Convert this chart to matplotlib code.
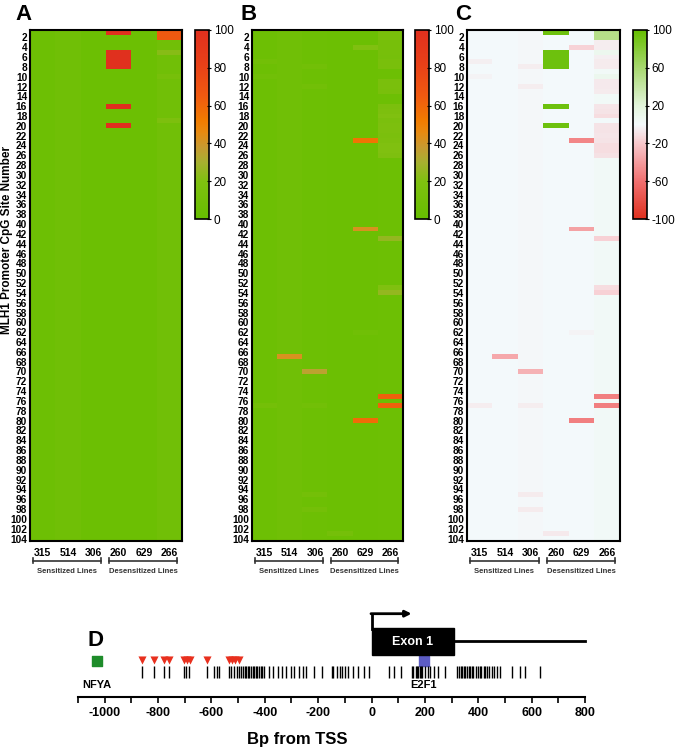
import matplotlib
matplotlib.use("Agg")
import matplotlib.pyplot as plt
import numpy as np
from matplotlib.colors import LinearSegmentedColormap
from matplotlib.patches import Rectangle

plt.rcParams['font.family'] = ['Liberation Sans', 'DejaVu Sans']
plt.rcParams['axes.unicode_minus'] = False

# ---- data -------------------------------------------------------------
n_sites = 104
cell_lines = ['315', '514', '306', '260', '629', '266']

# background methylation level per cell line (%)
base_a = [6, 8, 5, 5, 5, 9]
base_b = [6, 8, 6, 5, 5, 6]

# (site, line index, % methylation) for the cells that stand out
high_a = [(1, 3, 100), (5, 3, 100), (6, 3, 100), (7, 3, 100), (8, 3, 100),
          (16, 3, 100), (20, 3, 100),
          (1, 5, 65), (2, 5, 65), (5, 5, 22), (10, 5, 14), (19, 5, 18)]
high_b = [(7, 0, 10), (10, 0, 9), (77, 0, 11),
          (67, 1, 42),
          (8, 2, 10), (12, 2, 10), (70, 2, 35), (77, 2, 10), (95, 2, 11), (98, 2, 11),
          (103, 3, 12),
          (4, 4, 20), (23, 4, 55), (41, 4, 42), (62, 4, 8), (80, 4, 58),
          (1, 5, 15), (2, 5, 15), (3, 5, 14), (4, 5, 14), (5, 5, 14), (6, 5, 13),
          (7, 5, 15), (8, 5, 15), (11, 5, 16), (12, 5, 16), (13, 5, 15),
          (16, 5, 17), (17, 5, 18), (18, 5, 20), (19, 5, 17), (20, 5, 18),
          (21, 5, 18), (22, 5, 17), (23, 5, 18), (24, 5, 20), (25, 5, 20),
          (26, 5, 19), (43, 5, 25), (53, 5, 20), (54, 5, 25), (75, 5, 62),
          (77, 5, 62)]

# panel D: CpG positions relative to TSS (bp)
cpg_pos = [-862, -815, -778, -759, -704, -694, -684, -615, -590, -580, -570,
           -535, -525, -515, -505, -495, -488, -482, -476, -470, -464, -458,
           -452, -446, -440, -434, -428, -422, -416, -410, -404, -385, -370,
           -350, -335, -320, -300, -290, -270, -255, -245, -215, -185, -150,
           -145, -130, -120, -110, -100, -90, -70, -50, -30, -10, 65, 85, 110,
           150, 155, 165, 170, 175, 180, 185, 190, 200, 210, 220, 235, 250, 275,
           320, 328, 334, 340, 346, 352, 358, 364, 370, 376, 382, 390, 398, 405,
           412, 420, 425, 432, 440, 450, 460, 470, 480, 525, 555, 575, 630]
red_sites = [-862, -815, -778, -759, -704, -692, -680, -615, -535, -522, -510, -498]
nfya_pos = -1030
e2f1_pos = 195
exon_start, exon_end, gene_end = 0, 310, 800

# ---- build matrices ----------------------------------------------------
meth_a = np.tile(np.array(base_a, dtype=float), (n_sites, 1))
meth_b = np.tile(np.array(base_b, dtype=float), (n_sites, 1))
for site, col, val in high_a:
    meth_a[site - 1, col] = val
for site, col, val in high_b:
    meth_b[site - 1, col] = val
diff = meth_a - meth_b

cmap_meth = LinearSegmentedColormap.from_list('meth', [
    (0.0, '#66bf00'), (0.2, '#80c010'), (0.3, '#a8b030'), (0.38, '#c89a30'),
    (0.46, '#e88a10'), (0.52, '#f07c00'), (0.65, '#f05a10'), (0.82, '#e84018'),
    (1.0, '#e0301e')])
cmap_diff = LinearSegmentedColormap.from_list('diff', [
    (0.0, '#e0301e'), (0.2, '#f07070'), (0.4, '#f8c8cc'), (0.5, '#f4fafc'),
    (0.6, '#e2f4da'), (0.8, '#a8d870'), (1.0, '#66bf00')])

fig = plt.figure(figsize=(6.77, 7.5), dpi=100)
W, H = 677.0, 750.0


def fax(x0, y0, x1, y1):
    return fig.add_axes([x0 / W, 1 - y1 / H, (x1 - x0) / W, (y1 - y0) / H])


def heat(ax, data, cmap, vmin, vmax):
    im = ax.imshow(data, aspect='auto', cmap=cmap, vmin=vmin, vmax=vmax,
                   interpolation='nearest')
    rows = np.arange(2, n_sites + 1, 2)
    ax.set_yticks(rows - 1)
    ax.set_yticklabels([str(r) for r in rows], fontsize=7.3, fontweight='bold')
    ax.set_xticks(np.arange(len(cell_lines)))
    ax.set_xticklabels(cell_lines, fontsize=7.5, fontweight='bold')
    ax.tick_params(length=0, pad=2)
    ax.tick_params(axis='x', pad=5)
    for s in ax.spines.values():
        s.set_linewidth(1.5)
    # group brackets
    for x0, x1, lab in [(0.02, 0.47, 'Sensitized Lines'), (0.52, 0.97, 'Desensitized Lines')]:
        ax.plot([x0, x1], [-0.039, -0.039], color='#333333', lw=1.2,
                transform=ax.transAxes, clip_on=False)
        for xe in (x0, x1):
            ax.plot([xe, xe], [-0.034, -0.044], color='#333333', lw=1.2,
                    transform=ax.transAxes, clip_on=False)
        ax.text((x0 + x1) / 2, -0.052, lab, transform=ax.transAxes, ha='center',
                va='top', fontsize=5.5, fontweight='bold', color='#333333')
    return im


def cbar(im, cax, ticks):
    cb = fig.colorbar(im, cax=cax, ticks=ticks)
    cb.outline.set_linewidth(1.2)
    cb.ax.set_yticklabels([str(t) for t in ticks])
    cax.tick_params(labelsize=8.5, length=3, width=0.8, direction='inout', pad=2)
    return cb


ax_a = fax(30, 30, 182, 541)
im_a = heat(ax_a, meth_a, cmap_meth, 0, 100)
cbar(im_a, fax(195, 30, 209, 219), [0, 20, 40, 60, 80, 100])

ax_b = fax(252, 30, 403, 541)
im_b = heat(ax_b, meth_b, cmap_meth, 0, 100)
cbar(im_b, fax(415, 30, 429, 219), [0, 20, 40, 60, 80, 100])

ax_c = fax(467, 30, 620, 541)
im_c = heat(ax_c, diff, cmap_diff, -100, 100)
cbar(im_c, fax(633, 30, 647, 219), [-100, -60, -20, 20, 60, 100])

fig.text(7 / W, 1 - 240 / H, 'MLH1 Promoter CpG Site Number', rotation=90,
         ha='center', va='center', fontsize=8.5, fontweight='bold')
for lab, x in [('A', 15), ('B', 240), ('C', 455)]:
    fig.text(x / W, 1 - 15 / H, lab, ha='left', va='center', fontsize=16,
             fontweight='bold')

# ---- panel D -----------------------------------------------------------
ax_d = fax(78, 612, 585, 697)
ax_d.set_xlim(-1100, 800)
ax_d.set_ylim(0, 1)
for s in ['left', 'right', 'top']:
    ax_d.spines[s].set_visible(False)
ax_d.spines['bottom'].set_linewidth(1.5)
ax_d.set_yticks([])
ax_d.set_xticks(np.arange(-1000, 801, 200))
ax_d.set_xticks(np.arange(-1100, 801, 100), minor=True)
ax_d.tick_params(axis='x', which='both', length=4, width=1.2, labelsize=9, pad=3)
for t in ax_d.get_xticklabels():
    t.set_fontweight('bold')
ax_d.text(-280, -0.5, 'Bp from TSS', ha='center', va='center', fontsize=12,
          fontweight='bold')

ax_d.vlines(cpg_pos, 0.22, 0.37, color='black', lw=1.0)
ax_d.scatter(red_sites, [0.43] * len(red_sites), marker='v', s=34, color='#e8301e',
             zorder=3, linewidths=0)
ax_d.scatter([nfya_pos], [0.42], marker='s', s=45, color='#1e8c2a')
ax_d.scatter([e2f1_pos], [0.42], marker='s', s=45, color='#5c5cc4')
ax_d.text(nfya_pos, 0.14, 'NFYA', ha='center', va='center', fontsize=8, fontweight='bold')
ax_d.text(e2f1_pos, 0.14, 'E2F1', ha='center', va='center', fontsize=8, fontweight='bold')

ax_d.add_patch(Rectangle((exon_start, 0.5), exon_end - exon_start, 0.31,
                         color='black', clip_on=False))
ax_d.text((exon_start + exon_end) / 2, 0.65, 'Exon 1', color='white', ha='center',
          va='center', fontsize=9, fontweight='bold')
ax_d.plot([exon_end, gene_end], [0.66, 0.66], color='black', lw=2, clip_on=False)
ax_d.plot([exon_start, exon_start], [0.8, 0.98], color='black', lw=2, clip_on=False)
ax_d.annotate('', xy=(150, 0.98), xytext=(exon_start - 2, 0.98),
              arrowprops=dict(arrowstyle='-|>', color='black', lw=2,
                              mutation_scale=9, shrinkA=0, shrinkB=0),
              annotation_clip=False)
fig.text(88 / W, 1 - 640 / H, 'D', ha='left', va='center', fontsize=16,
         fontweight='bold')

fig.savefig('out.png', dpi=100)
